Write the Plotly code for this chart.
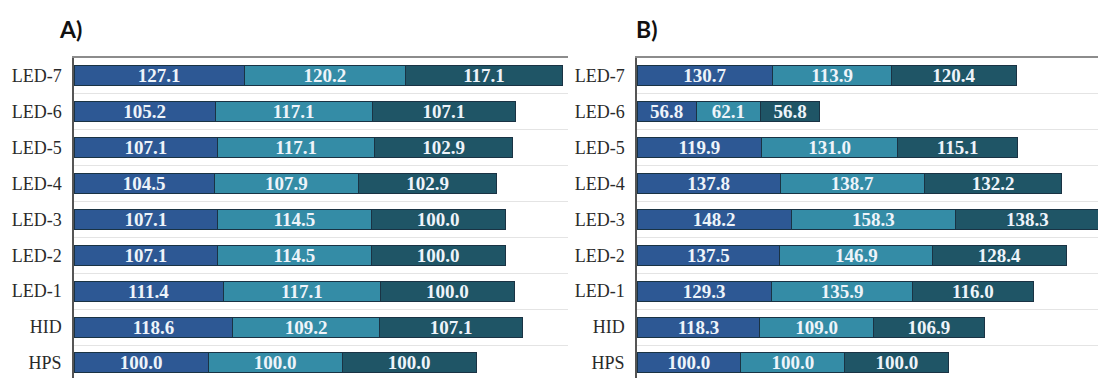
import plotly.graph_objects as go

# Row labels, top to bottom
categories = ["LED-7", "LED-6", "LED-5", "LED-4", "LED-3", "LED-2", "LED-1", "HID", "HPS"]

# Panel A: three stacked segments per row
a_seg1 = [127.1, 105.2, 107.1, 104.5, 107.1, 107.1, 111.4, 118.6, 100.0]
a_seg2 = [120.2, 117.1, 117.1, 107.9, 114.5, 114.5, 117.1, 109.2, 100.0]
a_seg3 = [117.1, 107.1, 102.9, 102.9, 100.0, 100.0, 100.0, 107.1, 100.0]

# Panel B: three stacked segments per row
b_seg1 = [130.7, 56.8, 119.9, 137.8, 148.2, 137.5, 129.3, 118.3, 100.0]
b_seg2 = [113.9, 62.1, 131.0, 138.7, 158.3, 146.9, 135.9, 109.0, 100.0]
b_seg3 = [120.4, 56.8, 115.1, 132.2, 138.3, 128.4, 116.0, 106.9, 100.0]

seg_colors = ["#2d5894", "#348ca6", "#1f5566"]
edge_color = "#1a3344"
label_font = dict(family="Liberation Serif", size=19, color="#eef4fa", weight="bold")
axis_font = dict(family="Liberation Serif", size=18, color="#2a2a2a")

W, H = 1098, 378
fig = go.Figure()

panels = [
    ("x", "y", [a_seg1, a_seg2, a_seg3]),
    ("x2", "y2", [b_seg1, b_seg2, b_seg3]),
]
for xa, ya, segs in panels:
    for vals, col in zip(segs, seg_colors):
        fig.add_trace(go.Bar(
            x=vals, y=categories, orientation="h",
            xaxis=xa, yaxis=ya,
            marker=dict(color=col, line=dict(color=edge_color, width=1)),
            width=0.56,
            text=vals, texttemplate="%{x:.1f}",
            textposition="inside", insidetextanchor="middle",
            textangle=0, textfont=label_font,
            hoverinfo="skip", showlegend=False,
        ))

top_px = 58
y_dom = [0, 1 - top_px / H]
y_range = [8.42, -0.5]

xcommon = dict(side="top", showline=True, linecolor="#8c8c8c", linewidth=2,
               showticklabels=False, ticks="", showgrid=False, zeroline=False)
ycommon = dict(type="category", range=y_range, domain=y_dom,
               showline=True, linecolor="#555555", linewidth=1.5,
               ticks="", tickson="boundaries", showgrid=True,
               gridcolor="#e4e4e4", gridwidth=1,
               tickfont=axis_font, ticklabelstandoff=7)

title_font = dict(family="Lato", size=23, color="#111111")

fig.update_layout(
    width=W, height=H,
    margin=dict(l=0, r=0, t=0, b=0),
    paper_bgcolor="white", plot_bgcolor="white",
    barmode="stack", bargap=0.44,
    uniformtext=dict(minsize=19, mode="show"),
    xaxis=dict(domain=[74 / W, 568 / W], range=[0, 368.5], anchor="y", **xcommon),
    yaxis=dict(anchor="x", **ycommon),
    xaxis2=dict(domain=[637 / W, 1.0], range=[0, 443.5], anchor="y2", **xcommon),
    yaxis2=dict(anchor="x2", **ycommon),
    annotations=[
        dict(text="<b>A)</b>", x=70 / W, y=1 - 29 / H, xref="paper", yref="paper",
             xanchor="center", yanchor="middle", showarrow=False, font=title_font),
        dict(text="<b>B)</b>", x=646 / W, y=1 - 29 / H, xref="paper", yref="paper",
             xanchor="center", yanchor="middle", showarrow=False, font=title_font),
    ],
)

fig.write_html("out.html")
